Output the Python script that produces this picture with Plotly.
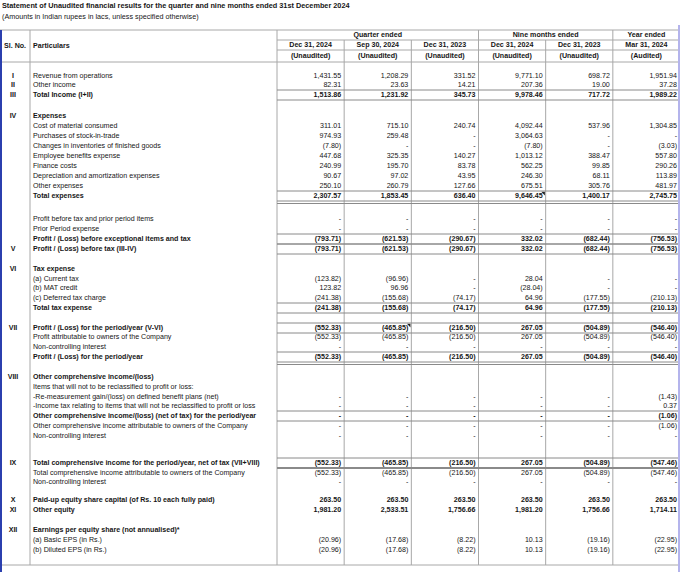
import numpy as np
import plotly.graph_objects as go

title = "Statement of Unaudited financial results for the quarter and nine months ended 31st December 2024"
subtitle = "(Amounts in Indian rupees in lacs, unless specified otherwise)"

period_groups = ["Quarter ended", "Nine months ended", "Year ended"]
group_cols = [3, 2, 1]
period_dates = ["Dec 31, 2024", "Sep 30, 2024", "Dec 31, 2023",
                "Dec 31, 2024", "Dec 31, 2023", "Mar 31, 2024"]
audit_status = ["(Unaudited)"] * 5 + ["(Audited)"]

# one entry per spreadsheet row ("" = empty row), None = empty cell, 0 = "-"
sl_no = ["", "I", "II", "III", "", "IV", "", "", "", "", "", "", "", "", "",
         "", "", "", "V", "", "VI", "", "", "", "", "", "VII", "", "", "", "",
         "VIII", "", "", "", "", "", "", "", "IX", "", "", "", "X", "XI", "",
         "XII", "", "", ""]
particulars = [
    "", "Revenue from operations", "Other income", "Total Income (I+II)", "",
    "Expenses", "Cost of material consumed", "Purchases of stock-in-trade",
    "Changes in inventories of finished goods", "Employee benefits expense",
    "Finance costs", "Depreciation and amortization expenses", "Other expenses",
    "Total expenses", "",
    "Profit before tax and prior period items", "Prior Period expense",
    "Profit / (Loss) before exceptional items and tax",
    "Profit / (Loss) before tax (III-IV)", "",
    "Tax expense", "(a) Current tax", "(b) MAT credit", "(c) Deferred tax charge",
    "Total tax expense", "",
    "Profit / (Loss) for the period/year (V-VI)",
    "Profit attributable to owners of the Company", "Non-controlling interest",
    "Profit / (Loss) for the period/year", "",
    "Other comprehensive income/(loss)",
    "Items that will not to be reclassified to profit or loss:",
    "-Re-measurement gain/(loss) on defined benefit plans (net)",
    "-Income tax relating to items that will not be reclassified to profit or loss",
    "Other comprehensive income/(loss) (net of tax) for the period/year",
    "Other comprehensive income attributable to owners of the Company",
    "Non-controlling interest", "",
    "Total comprehensive income for the period/year, net of tax (VII+VIII)",
    "Total comprehensive income attributable to owners of the Company",
    "Non-controlling interest", "",
    "Paid-up equity share capital (of Rs. 10 each fully paid)", "Other equity", "",
    "Earnings per equity share (not annualised)*",
    "(a) Basic EPS (in Rs.)", "(b) Diluted EPS (in Rs.)", "",
]
bold_rows = [3, 5, 13, 17, 18, 20, 24, 26, 29, 31, 35, 39, 43, 44, 46]

N = None
q_dec24 = [N, 1431.55, 82.31, 1513.86, N, N, 311.01, 974.93, -7.80, 447.68, 240.99,
           90.67, 250.10, 2307.57, N, 0, 0, -793.71, -793.71, N, N, -123.82, 123.82,
           -241.38, -241.38, N, -552.33, -552.33, 0, -552.33, N, N, N, 0, 0, 0, 0, 0,
           N, -552.33, -552.33, 0, N, 263.50, 1981.20, N, N, -20.96, -20.96, N]
q_sep24 = [N, 1208.29, 23.63, 1231.92, N, N, 715.10, 259.48, 0, 325.35, 195.70,
           97.02, 260.79, 1853.45, N, 0, 0, -621.53, -621.53, N, N, -96.96, 96.96,
           -155.68, -155.68, N, -465.85, -465.85, 0, -465.85, N, N, N, 0, 0, 0, 0, 0,
           N, -465.85, -465.85, 0, N, 263.50, 2533.51, N, N, -17.68, -17.68, N]
q_dec23 = [N, 331.52, 14.21, 345.73, N, N, 240.74, 0, 0, 140.27, 83.78,
           43.95, 127.66, 636.40, N, 0, 0, -290.67, -290.67, N, N, 0, 0,
           -74.17, -74.17, N, -216.50, -216.50, 0, -216.50, N, N, N, 0, 0, 0, 0, 0,
           N, -216.50, -216.50, 0, N, 263.50, 1756.66, N, N, -8.22, -8.22, N]
nm_dec24 = [N, 9771.10, 207.36, 9978.46, N, N, 4092.44, 3064.63, -7.80, 1013.12, 562.25,
            246.30, 675.51, 9646.45, N, 0, 0, 332.02, 332.02, N, N, 28.04, -28.04,
            64.96, 64.96, N, 267.05, 267.05, 0, 267.05, N, N, N, 0, 0, 0, 0, 0,
            N, 267.05, 267.05, 0, N, 263.50, 1981.20, N, N, 10.13, 10.13, N]
nm_dec23 = [N, 698.72, 19.00, 717.72, N, N, 537.96, 0, 0, 388.47, 99.85,
            68.11, 305.76, 1400.17, N, 0, 0, -682.44, -682.44, N, N, 0, 0,
            -177.55, -177.55, N, -504.89, -504.89, 0, -504.89, N, N, N, 0, 0, 0, 0, 0,
            N, -504.89, -504.89, 0, N, 263.50, 1756.66, N, N, -19.16, -19.16, N]
yr_mar24 = [N, 1951.94, 37.28, 1989.22, N, N, 1304.85, 0, -3.03, 557.80, 290.26,
            113.89, 481.97, 2745.75, N, 0, 0, -756.53, -756.53, N, N, 0, 0,
            -210.13, -210.13, N, -546.40, -546.40, 0, -546.40, N, N, N, -1.43, 0.37,
            -1.06, -1.06, 0, N, -547.46, -547.46, 0, N, 263.50, 1714.11, N, N,
            -22.95, -22.95, N]
value_cols = [q_dec24, q_sep24, q_dec23, nm_dec24, nm_dec23, yr_mar24]

# cells carrying a spreadsheet comment marker (row, column)
comment_cells = [(13, 3), (26, 1)]

# ---- layout (pixels of the 680x572 sheet) ----
W, H = 680, 572
TOP, HDR1, HDR2, HDR_END = 30, 40, 50, 62
SL_R, PART_R = 30, 277
COL_W = (W - PART_R) / 6
row_h = [9, 10, 9, 10, 11, 10, 10, 10, 10, 10, 10, 10, 10, 10, 13, 10, 10, 10, 10,
         10, 10, 10, 9, 10, 10, 10, 10, 9, 10, 10, 10, 10, 10, 10, 9, 10, 10, 10,
         17, 10, 10, 8, 9, 10, 10, 10, 10, 10, 10, 10]
boxed_rows = [3, 13, 17, 18, 24, 26, 29, 35, 39]
double_rows = [13, 29]
heavy_rows = [39]

edges = HDR_END + np.concatenate([[0], np.cumsum(row_h)])
mids = (edges[:-1] + edges[1:]) / 2
BOTTOM = edges[-1]
col_edges = PART_R + COL_W * np.arange(7)

FONT = "Liberation Sans, Arial, sans-serif"
FS = 7.1
INK = "#161616"


def fmt(v):
    if v is None:
        return ""
    if v == 0:
        return "-"
    s = f"{abs(v):,.2f}"
    return f"({s})" if v < 0 else s


def b(t, on=True):
    return f"<b>{t}</b>" if (on and t) else t


fig = go.Figure()


def add_text(x, y, text, pos, size=FS, color=INK):
    fig.add_trace(go.Scatter(
        x=x, y=y, text=text, mode="text", textposition=pos,
        textfont=dict(family=FONT, size=size, color=color),
        cliponaxis=False, hoverinfo="skip", showlegend=False))


# title block
add_text([2], [6], [b(title)], "middle right", size=7.3)
add_text([2], [17], [subtitle], "middle right", size=7.2)

# header
hy = (TOP + HDR_END) / 2
add_text([4, SL_R + 3], [hy, hy], [b("Sl. No."), b("Particulars")], "middle right")
starts = np.concatenate([[0], np.cumsum(group_cols)[:-1]])
gx = [(col_edges[s] + col_edges[s + n]) / 2 for s, n in zip(starts, group_cols)]
add_text(gx, [(TOP + HDR1) / 2] * 3, [b(g) for g in period_groups], "middle center")
cx = (col_edges[:-1] + col_edges[1:]) / 2
add_text(cx, [(HDR1 + HDR2) / 2] * 6, [b(d) for d in period_dates], "middle center")
add_text(cx, [(HDR2 + HDR_END) / 2 + 0.5] * 6, [b(a) for a in audit_status], "middle center")

# body
bold = [i in bold_rows for i in range(len(particulars))]
add_text([SL_R / 2 - 2] * len(sl_no), mids, [b(s) for s in sl_no], "middle center")
add_text([SL_R + 3] * len(particulars), mids,
         [b(p, k) for p, k in zip(particulars, bold)], "middle right")
for j, col in enumerate(value_cols):
    add_text([col_edges[j + 1] - 3] * len(col), mids,
             [b(fmt(v), k) for v, k in zip(col, bold)], "middle left")

# comment indicators
fig.add_trace(go.Scatter(
    x=[col_edges[c + 1] - 2 for r, c in comment_cells],
    y=[edges[r] + 2 for r, c in comment_cells],
    mode="markers", marker=dict(symbol="triangle-ne", size=4, color="#222"),
    hoverinfo="skip", showlegend=False, cliponaxis=False))

# grid
GRID = "#a8a8a8"
RULE = "#8a8a8a"
shapes = []


def hline(y, x0, x1, color=GRID, w=1):
    shapes.append(dict(type="line", xref="x", yref="y", x0=x0, x1=x1, y0=y, y1=y,
                       line=dict(color=color, width=w)))


def vline(x, y0, y1, color=GRID, w=1):
    shapes.append(dict(type="line", xref="x", yref="y", x0=x, x1=x, y0=y0, y1=y1,
                       line=dict(color=color, width=w)))


hline(TOP, 0, W)
hline(HDR1, PART_R, W)
hline(HDR2, PART_R, W)
hline(HDR_END, 0, W)
hline(BOTTOM, 0, W)
vline(SL_R, TOP, BOTTOM)
vline(PART_R, TOP, BOTTOM)
group_edges = col_edges[np.cumsum(group_cols)]
for x in col_edges[1:-1]:
    vline(x, TOP if x in group_edges else HDR1, BOTTOM)
for r in boxed_rows:
    hline(edges[r], PART_R, W, RULE)
    hline(edges[r + 1], PART_R, W, RULE, 2 if r in heavy_rows else 1)
for r in double_rows:
    hline(edges[r + 1] + 2.5, PART_R, W, RULE)
vline(1, TOP, H, "#2b3fae", 2)
vline(W - 1, TOP - 5, H, "#b4b4ec", 2)

fig.update_layout(
    width=W, height=H,
    margin=dict(l=0, r=0, t=0, b=0),
    paper_bgcolor="white", plot_bgcolor="white",
    xaxis=dict(range=[0, W], visible=False, fixedrange=True),
    yaxis=dict(range=[H, 0], visible=False, fixedrange=True),
    shapes=shapes,
)

# the page's default body margin would shift the sheet by 8px
fig.write_html("out.html", config={"displayModeBar": False},
               post_script="document.body.style.margin='0';"
                           "document.body.style.overflow='hidden';")
